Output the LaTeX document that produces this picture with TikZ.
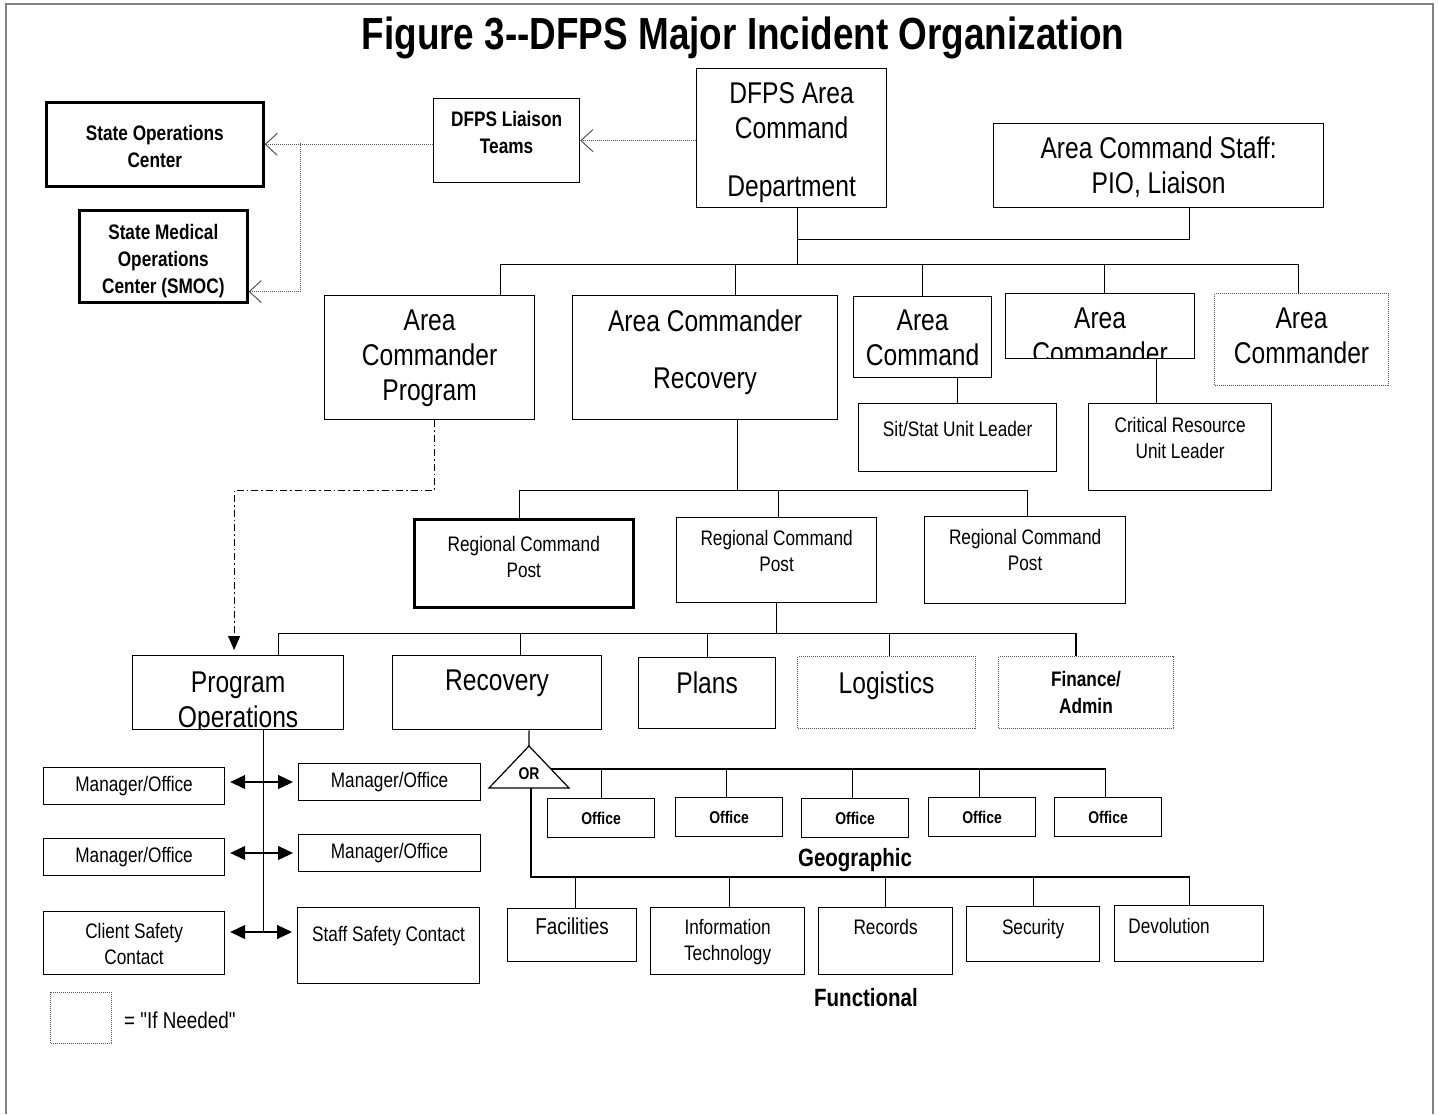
\documentclass[tikz,border=0pt]{standalone}
\usepackage{fontspec}
\setmainfont{Liberation Sans}[FakeStretch=0.82]
\usepackage{tikz}
\usetikzlibrary{arrows.meta,positioning,calc}
\definecolor{framegray}{RGB}{130,130,130}
\definecolor{dotgray}{RGB}{85,85,85}
\tikzstyle{orgbox} = [rectangle, draw=black, line width=1.2pt, fill=white, inner sep=0pt, anchor=north west]
\tikzstyle{thickbox} = [orgbox, line width=2.6pt]
\tikzstyle{ifneeded} = [orgbox, draw=dotgray, line width=1pt, dash pattern=on 1pt off 1pt]
\tikzstyle{bigtext} = [font=\fontsize{30}{35}\selectfont]
\tikzstyle{midtext} = [font=\fontsize{23}{27}\selectfont]
\tikzstyle{smalltext} = [font=\fontsize{21}{26}\selectfont]
\tikzstyle{smallbold} = [font=\bfseries\fontsize{21}{27}\selectfont]
\tikzstyle{tinybold} = [font=\bfseries\fontsize{17}{20}\selectfont]
\tikzstyle{headbold} = [font=\bfseries\fontsize{25}{30}\selectfont]
\tikzstyle{bus} = [line width=1.2pt]
\tikzstyle{liaisonarrow} = [densely dotted, line width=1pt, draw=dotgray, -{Straight Barb[length=12pt,width=22pt,line width=1pt]}]
\tikzstyle{progarrow} = [line width=1pt, dash pattern=on 7pt off 3pt on 1.5pt off 3pt, -{Triangle[length=14pt,width=12pt]}, shorten >=5pt]
\tikzstyle{dblarrow} = [line width=1.2pt, {Triangle[length=15pt,width=14pt]}-{Triangle[length=15pt,width=14pt]}, shorten <=5pt, shorten >=5pt]
\tikzstyle{inner} = [anchor=north, align=center, inner sep=0pt, minimum width=0pt, minimum height=0pt, draw=none, fill=none]
\tikzset{toptext/.style 2 args={path picture={\node[inner] at ([yshift=-#2 pt]path picture bounding box.north) {#1};}}}

\begin{document}
\begin{tikzpicture}[x=1pt, y=-1pt]
\fill[white] (0,0) rectangle (1439,1114);
\useasboundingbox (0,0) rectangle (1439,1114);
\draw[framegray, line width=2.5pt] (6,1114) -- (6,4) -- (1433,4) -- (1433,1114);

\node[font=\bfseries\fontsize{45}{50}\selectfont] (title) at (743,38) {Figure 3-{}-DFPS Major Incident Organization};

% command level
\node[orgbox, bigtext, minimum width=190, minimum height=139, toptext={DFPS Area\\Command\\[23pt]Department}{13}] (dept) at (696,68) {};
\node[orgbox, bigtext, minimum width=330, minimum height=84, toptext={Area Command Staff:\\PIO, Liaison}{13}] (staff) at (993,123) {};
\node[orgbox, smallbold, minimum width=146, minimum height=84, toptext={DFPS Liaison\\Teams}{12.5}] (liaison) at (433,98) {};
\node[thickbox, smallbold, minimum width=217, minimum height=84, toptext={State Operations\\Center}{21.5}] (sops) at (45,101) {};
\node[thickbox, smallbold, minimum width=168, minimum height=92, toptext={State Medical\\Operations\\Center (SMOC)}{12.5}] (smoc) at (78,209) {};

\node[orgbox, bigtext, minimum width=210, minimum height=124, toptext={Area\\Commander\\Program}{14}] (acprog) at (324,295) {};
\node[orgbox, bigtext, minimum width=265, minimum height=124, toptext={Area Commander\\[22pt]Recovery}{14}] (acrec) at (572,295) {};
\node[orgbox, bigtext, minimum width=138, minimum height=81, toptext={Area\\Command}{13}] (accmd) at (853,296) {};
\node[orgbox, bigtext, minimum width=189, minimum height=65, toptext={Area\\Commander}{14}] (accdr) at (1005,293) {};
\node[ifneeded, bigtext, minimum width=174, minimum height=92, toptext={Area\\Commander}{14}] (acdot) at (1214,293) {};
\node[orgbox, smalltext, minimum width=198, minimum height=68, toptext={Sit/Stat Unit Leader}{17.5}] (sitstat) at (858,403) {};
\node[orgbox, smalltext, minimum width=183, minimum height=87, toptext={Critical Resource\\Unit Leader}{13.5}] (critres) at (1088,403) {};

% regional level
\node[thickbox, smalltext, minimum width=219, minimum height=88, toptext={Regional Command\\Post}{15.5}] (rcpa) at (413,518) {};
\node[orgbox, smalltext, minimum width=200, minimum height=85, toptext={Regional Command\\Post}{12.5}] (rcpb) at (676,517) {};
\node[orgbox, smalltext, minimum width=201, minimum height=87, toptext={Regional Command\\Post}{12.5}] (rcpc) at (924,516) {};

\node[orgbox, bigtext, minimum width=211, minimum height=74, toptext={Program\\Operations}{16}] (progops) at (132,655) {};
\node[orgbox, bigtext, minimum width=209, minimum height=74, toptext={Recovery}{14}] (recov) at (392,655) {};
\node[orgbox, bigtext, minimum width=137, minimum height=71, toptext={Plans}{14}] (plans) at (638,657) {};
\node[ifneeded, bigtext, minimum width=178, minimum height=72, toptext={Logistics}{15}] (logis) at (797,656) {};
\node[ifneeded, smallbold, minimum width=175, minimum height=72, toptext={Finance/\\Admin}{14.5}] (finance) at (998,656) {};

% program operations
\node[orgbox, smalltext, minimum width=181, minimum height=37] (mgrla) at (43,767) {Manager/Office};
\node[orgbox, smalltext, minimum width=182, minimum height=37] (mgrra) at (298,763) {Manager/Office};
\node[orgbox, smalltext, minimum width=181, minimum height=37] (mgrlb) at (43,838) {Manager/Office};
\node[orgbox, smalltext, minimum width=182, minimum height=37] (mgrrb) at (298,834) {Manager/Office};
\node[orgbox, smalltext, minimum width=181, minimum height=63, toptext={Client Safety\\Contact}{11.5}] (clientsafe) at (43,911) {};
\node[orgbox, smalltext, minimum width=182, minimum height=76, toptext={Staff Safety Contact}{18.5}] (staffsafe) at (297,907) {};

% recovery branches
\node[orgbox, tinybold, minimum width=107, minimum height=39] (offa) at (547,798) {Office};
\node[orgbox, tinybold, minimum width=107, minimum height=39] (offb) at (675,797) {Office};
\node[orgbox, tinybold, minimum width=107, minimum height=39] (offc) at (801,798) {Office};
\node[orgbox, tinybold, minimum width=107, minimum height=39] (offd) at (928,797) {Office};
\node[orgbox, tinybold, minimum width=107, minimum height=39] (offe) at (1054,797) {Office};
\node[headbold] (geo) at (855,860) {Geographic};

\node[orgbox, midtext, minimum width=129, minimum height=53, toptext={Facilities}{9}] (fac) at (507,908) {};
\node[orgbox, smalltext, minimum width=154, minimum height=67, toptext={Information\\Technology}{11.5}] (itech) at (650,907) {};
\node[orgbox, smalltext, minimum width=134, minimum height=67, toptext={Records}{11.5}] (records) at (818,907) {};
\node[orgbox, smalltext, minimum width=133, minimum height=55, toptext={Security}{12.5}] (security) at (966,906) {};
\node[orgbox, smalltext, minimum width=149, minimum height=56, path picture={\node[inner] at ([xshift=-20pt, yshift=-12.5pt]path picture bounding box.north) {Devolution};}] (devol) at (1114,905) {};
\node[headbold] (func) at (866,998) {Functional};

% legend
\node[ifneeded, minimum width=61, minimum height=51] (legend) at (50,992) {};
\node[midtext, anchor=west, inner sep=0pt] (legendtxt) at (124,1020) {\addfontfeature{Ligatures=TeXOff}= "If Needed"};

% OR gate
\coordinate (ortop) at (529,746);
\coordinate (orright) at (551,769);
\coordinate (orbase) at (531,788);
\draw[bus, fill=white] (ortop) -- (569,788) -- (489,788) -- cycle;
\node[tinybold] (orlabel) at (529,774) {OR};

% liaison links
\draw[liaisonarrow] (liaison.east -| dept.west) -- (liaison.east);
\draw[liaisonarrow] (liaison.west |- sops.east) -- (sops.east);
\coordinate (fork) at (300,143);
\coordinate (smocin) at ([yshift=12pt]smoc.south east);
\draw[liaisonarrow] (fork) |- (smocin);

% command connectors
\draw[bus] ([xshift=6pt, yshift=-31pt]dept.south) -| ([xshift=31pt]staff.south);
\draw[bus] ([xshift=6pt]dept.south) -- ++(0,56) -| ([xshift=71pt]acprog.north);
\draw[bus] ([xshift=6pt]dept.south) -- ++(0,56) -| ([xshift=30pt]acrec.north);
\draw[bus] ([xshift=6pt]dept.south) -- ++(0,56) -| (accmd.north);
\draw[bus] ([xshift=6pt]dept.south) -- ++(0,56) -| ([xshift=4pt]accdr.north);
\draw[bus] ([xshift=6pt]dept.south) -- ++(0,56) -| ([xshift=-3pt]acdot.north);
\draw[bus] (sitstat.north) -- (sitstat.north |- accmd.south);
\draw[bus] ([xshift=-24pt]critres.north) -- ([xshift=-24pt]critres.north |- accdr.south);
\draw[progarrow] ([xshift=5pt]acprog.south) -- ++(0,70) -| ([xshift=-4pt]progops.north);

% regional connectors
\draw[bus] ([xshift=32pt]acrec.south) -- ++(0,70) -| ([xshift=-4pt]rcpa.north);
\draw[bus] ([xshift=32pt]acrec.south) -- ++(0,70) -| ([xshift=2pt]rcpb.north);
\draw[bus] ([xshift=32pt]acrec.south) -- ++(0,70) -| ([xshift=2pt]rcpc.north);
\draw[bus] (rcpb.south) -- ++(0,30) -| ([xshift=40pt]progops.north);
\draw[bus] (rcpb.south) -- ++(0,30) -| ([xshift=23pt]recov.north);
\draw[bus] (rcpb.south) -- ++(0,30) -| (plans.north);
\draw[bus] (rcpb.south) -- ++(0,30) -| ([xshift=3pt]logis.north);
\draw[bus] (rcpb.south) -- ++(0,30) -| ([xshift=-10pt]finance.north);

% program operations trunk
\draw[bus] ([xshift=25pt]progops.south) -- ++(0,203);
\coordinate (tapa) at (262,782);
\coordinate (tapb) at (262,853);
\coordinate (tapc) at (262,932);
\draw[dblarrow] (mgrla.east |- tapa) -- (mgrra.west |- tapa);
\draw[dblarrow] (mgrlb.east |- tapb) -- (mgrrb.west |- tapb);
\draw[dblarrow] (clientsafe.east |- tapc) -- (staffsafe.west |- tapc);

% recovery connectors
\draw[bus] ([xshift=32pt]recov.south) -- (ortop);
\draw[bus] (orright) -| (offa.north);
\draw[bus] (orright) -| ([xshift=-3pt]offb.north);
\draw[bus] (orright) -| ([xshift=-3pt]offc.north);
\draw[bus] (orright) -| ([xshift=-3pt]offd.north);
\draw[bus] (orright) -| ([xshift=-3pt]offe.north);
\draw[bus] (orbase) -- ++(0,89) -| ([xshift=3pt]fac.north);
\draw[bus] (orbase) -- ++(0,89) -| ([xshift=2pt]itech.north);
\draw[bus] (orbase) -- ++(0,89) -| (records.north);
\draw[bus] (orbase) -- ++(0,89) -| (security.north);
\draw[bus] (orbase) -- ++(0,89) -| (devol.north);
\end{tikzpicture}
\end{document}
